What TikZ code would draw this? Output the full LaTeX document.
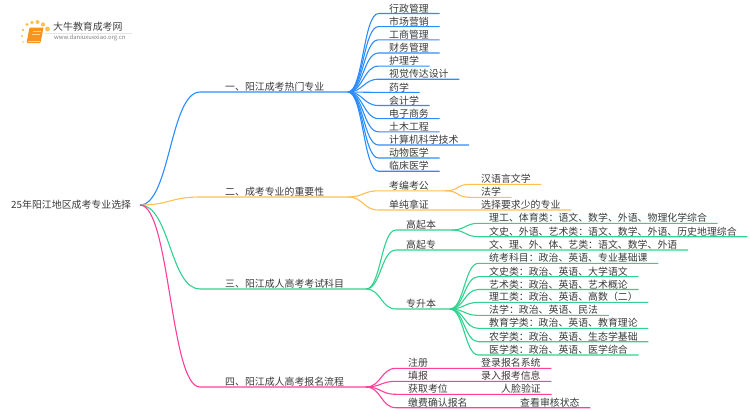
\documentclass[tikz,border=0pt]{standalone}
\usepackage{fontspec}
\setmainfont{Noto Sans CJK SC}
\definecolor{bluelink}{HTML}{2B8CFF}
\definecolor{orangelink}{HTML}{FFC050}
\definecolor{greenlink}{HTML}{2FD28E}
\definecolor{pinklink}{HTML}{FF3F98}
\definecolor{textgray}{HTML}{3A3A3A}
\definecolor{bookfill}{HTML}{F7941D}
\tikzset{
    every node/.style={font=\fontsize{9.9pt}{10pt}\selectfont, text=textgray, inner ysep=0pt, minimum height=10pt, anchor=south west},
    branch/.style={inner xsep=25pt},
    leaf/.style={inner xsep=10.5pt},
    blueline/.style={draw=bluelink, line width=1.1pt},
    orangeline/.style={draw=orangelink, line width=1.1pt},
    greenline/.style={draw=greenlink, line width=1.1pt},
    pinkline/.style={draw=pinklink, line width=1.1pt},
    link/.style={to path={.. controls +(#1,0) and +(-#1,0) .. (\tikztotarget)}},
    link/.default=15
}
\begin{document}
\begin{tikzpicture}[x=1pt, y=-1pt]
\useasboundingbox (0,0) rectangle (750,410);
% logo
\foreach \px/\py/\r in {22/36/1.1, 23/42/0.9, 23/30/1.3, 27/24.5/1.6, 32/22.5/1.9, 37.5/22/2, 43/24.5/2.2, 47.5/29/2.4}
    \fill[orangelink] (\px,\py) circle (\r);
\fill[bookfill, rounded corners=1pt] (29.5,27.5) -- (43.5,27.5) -- (40.5,43) -- (26.5,43) -- cycle;
\draw[orangelink!70, line width=0.8pt] (32.5,31.5) -- (40.5,31.5) (32,34.5) -- (40,34.5);
\draw[orangelink!60, line width=0.7pt] (28,41) -- (40,41);
\draw[gray!20, line width=0.5pt] (45,33) -- (132,33);
\node[inner xsep=0pt, text=black!75] (logoname) at (53,32) {大牛教育成考网};
\node[inner xsep=0pt, text=gray, font=\fontsize{5.9pt}{6pt}\selectfont] (logourl) at (54,43.5) {www.daniuxuexiao.org.cn};
% root and branches
\node[inner xsep=0pt] (root) at (11,210) {25年阳江地区成考专业选择};
\coordinate (hubroot) at (140,205);
\node[branch] (hot) at (200,92) {一、阳江成考热门专业};
\node[branch] (why) at (200,197) {二、成考专业的重要性};
\node[branch] (exam) at (200,289) {三、阳江成人高考考试科目};
\node[branch] (flow) at (200,387) {四、阳江成人高考报名流程};
\coordinate (hubhot) at (348,92);
\coordinate (hubwhy) at (348,197);
\coordinate (hubexam) at (366,289);
\coordinate (hubflow) at (366,387);
% hot majors
\node[leaf] (m1) at (378.5,13.5) {行政管理};
\node[leaf] (m2) at (378.5,26.6) {市场营销};
\node[leaf] (m3) at (378.5,39.8) {工商管理};
\node[leaf] (m4) at (378.5,53) {财务管理};
\node[leaf] (m5) at (378.5,66.1) {护理学};
\node[leaf] (m6) at (378.5,79.2) {视觉传达设计};
\node[leaf] (m7) at (378.5,92.4) {药学};
\node[leaf] (m8) at (378.5,105.5) {会计学};
\node[leaf] (m9) at (378.5,118.6) {电子商务};
\node[leaf] (m10) at (378.5,131.8) {土木工程};
\node[leaf] (m11) at (378.5,145) {计算机科学技术};
\node[leaf] (m12) at (378.5,158) {动物医学};
\node[leaf] (m13) at (378.5,171.2) {临床医学};
% importance
\node[leaf] (civil) at (378.5,190.8) {考编考公};
\node[leaf] (cert) at (378.5,210) {单纯拿证};
\coordinate (hubcivil) at (445,190.8);
\node[leaf] (chinese) at (470.5,184.3) {汉语言文学};
\node[leaf] (law) at (470.5,197.3) {法学};
\node[leaf] (easy) at (470.5,210) {选择要求少的专业};
% exam subjects
\node[leaf, inner xsep=10pt] (gqb) at (396,230) {高起本};
\node[leaf, inner xsep=10pt] (gqz) at (396,250) {高起专};
\node[leaf, inner xsep=10pt] (zsb) at (396,309) {专升本};
\coordinate (hubgqb) at (452,230);
\coordinate (hubzsb) at (450,309);
\node[leaf] (sci) at (478.5,223.3) {理工、体育类：语文、数学、外语、物理化学综合};
\node[leaf] (art) at (478.5,236.7) {文史、外语、艺术类：语文、数学、外语、历史地理综合};
\node[leaf] (all) at (478.5,250) {文、理、外、体、艺类：语文、数学、外语};
\node[leaf] (s1) at (478.5,263.3) {统考科目：政治、英语、专业基础课};
\node[leaf] (s2) at (478.5,276.6) {文史类：政治、英语、大学语文};
\node[leaf] (s3) at (478.5,289.5) {艺术类：政治、英语、艺术概论};
\node[leaf] (s4) at (478.5,302.4) {理工类：政治、英语、高数（二）};
\node[leaf] (s5) at (478.5,315.4) {法学：政治、英语、民法};
\node[leaf] (s6) at (478.5,328.4) {教育学类：政治、英语、教育理论};
\node[leaf] (s7) at (478.5,341.7) {农学类：政治、英语、生态学基础};
\node[leaf] (s8) at (478.5,355) {医学类：政治、英语、医学综合};
% enrolment steps
\node[leaf, inner xsep=12pt] (reg) at (396,368.3) {注册};
\node[leaf, inner xsep=12pt] (fill) at (396,381.3) {填报};
\node[leaf, inner xsep=12pt] (seat) at (396,394.3) {获取考位};
\node[leaf, inner xsep=12pt] (pay) at (396,407.7) {缴费确认报名};
\node[leaf] (login) at (470.5,368.3) {登录报名系统};
\node[leaf] (input) at (470.5,381.3) {录入报考信息};
\node[leaf] (face) at (490.5,394.3) {人脸验证};
\node[leaf] (check) at (509.5,407.7) {查看审核状态};
% connectors
\draw[blueline] (hubroot) to[link=30] (hot.south west) -- (hubhot);
\draw[orangeline] (hubroot) to[link=30] (why.south west) -- (hubwhy);
\draw[greenline] (hubroot) to[link=30] (exam.south west) -- (hubexam);
\draw[pinkline] (hubroot) to[link=30] (flow.south west) -- (hubflow);
\foreach \leaf in {m1,m2,m3,m4,m5,m6,m7,m8,m9,m10,m11,m12,m13}
    \draw[blueline] (hubhot) to[link] (\leaf.south west) -- (\leaf.south east);
\draw[orangeline] (hubwhy) to[link] (civil.south west) -- (hubcivil);
\draw[orangeline] (hubwhy) to[link] (cert.south west) -- (easy.south east);
\draw[orangeline] (hubcivil) to[link] (chinese.south west) -- (chinese.south east);
\draw[orangeline] (hubcivil) to[link] (law.south west) -- (law.south east);
\draw[greenline] (hubexam) to[link] (gqb.south west) -- (hubgqb);
\draw[greenline] (hubexam) to[link] (gqz.south west) -- (all.south east);
\draw[greenline] (hubexam) to[link] (zsb.south west) -- (hubzsb);
\foreach \leaf in {sci,art}
    \draw[greenline] (hubgqb) to[link=13] (\leaf.south west) -- (\leaf.south east);
\foreach \leaf in {s1,s2,s3,s4,s5,s6,s7,s8}
    \draw[greenline] (hubzsb) to[link=14] (\leaf.south west) -- (\leaf.south east);
\draw[pinkline] (hubflow) to[link] (reg.south west) -- (login.south east);
\draw[pinkline] (hubflow) to[link] (fill.south west) -- (input.south east);
\draw[pinkline] (hubflow) to[link] (seat.south west) -- (face.south east);
\draw[pinkline] (hubflow) to[link] (pay.south west) -- (check.south east);
\end{tikzpicture}
\end{document}
